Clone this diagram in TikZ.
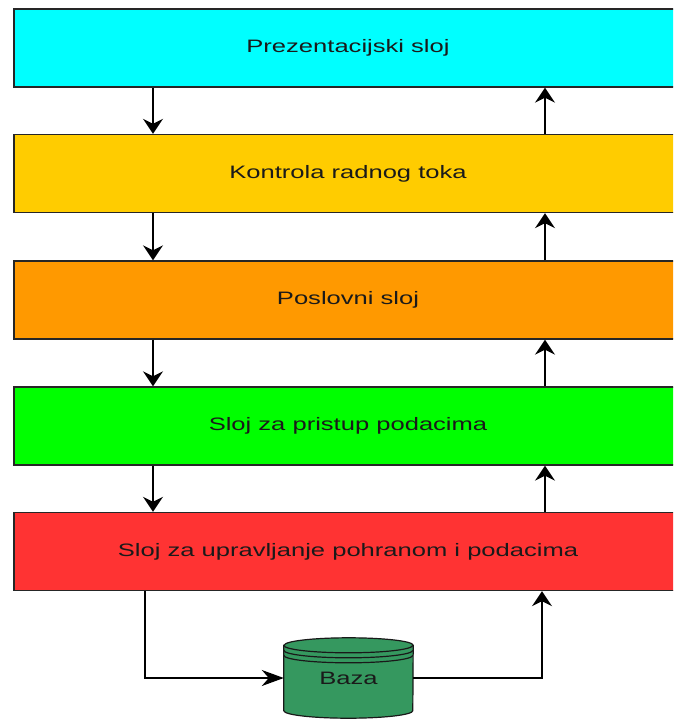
\documentclass[tikz,border=0pt]{standalone}
\usepackage{fontspec}
\setmainfont{Liberation Sans}
\usetikzlibrary{arrows.meta,shadows}
\definecolor{cCyan}{HTML}{00FFFF}
\definecolor{cYellow}{HTML}{FFCC00}
\definecolor{cOrange}{HTML}{FF9900}
\definecolor{cGreen}{HTML}{00FF00}
\definecolor{cRed}{HTML}{FF3333}
\definecolor{cBaza}{HTML}{35985F}
\definecolor{cText}{HTML}{1A1A1A}
\begin{document}
\begin{tikzpicture}[x=1pt,y=-1pt,
  layerbox/.style={draw=black!85, line width=1.4pt, minimum width=668pt, minimum height=78pt,
    inner sep=0pt, text=cText, font=\fontsize{18}{20}\selectfont},
  connv/.style={line width=1.5pt, -{Stealth[length=15pt,width=20pt,inset=5pt]}},
  connh/.style={line width=1.5pt, -{Stealth[length=22pt,width=16pt,inset=7pt]}},
  cyl/.style={draw=black!90, line width=1.2pt, fill=cBaza}
]
\useasboundingbox (0,0) rectangle (673,720);
\clip (0,0) rectangle (673,720);

\node[layerbox, fill=cCyan]   (l1) at (348,48)    {\scalebox{1.42}[1]{Prezentacijski sloj}};
\node[layerbox, fill=cYellow] (l2) at (348,173.5) {\scalebox{1.42}[1]{Kontrola radnog toka}};
\node[layerbox, fill=cOrange] (l3) at (348,300)   {\scalebox{1.42}[1]{Poslovni sloj}};
\node[layerbox, fill=cGreen]  (l4) at (348,426)   {\scalebox{1.42}[1]{Sloj za pristup podacima}};
\node[layerbox, fill=cRed]    (l5) at (348,551.5) {\scalebox{1.42}[1]{Sloj za upravljanje pohranom i podacima}};

\coordinate (dx) at (153,0);
\coordinate (ux) at (545,0);
\coordinate (bl) at (145,0);
\coordinate (br) at (542,0);

\foreach \a/\b in {l1/l2,l2/l3,l3/l4,l4/l5}{
  \draw[connv] (\a.south -| dx) -- (\b.north -| dx);
  \draw[connv] (\b.north -| ux) -- (\a.south -| ux);
}

% database cylinder
\node[minimum width=129pt, minimum height=80pt, inner sep=0pt] (baza) at (348.5,678) {};
\begin{scope}[shift={(3pt,-3pt)}]
\fill[black!25, opacity=0.6] ([yshift=-7.5pt]baza.north west) -- ([yshift=7.5pt]baza.south west)
  arc[start angle=180,end angle=360,x radius=64.5pt,y radius=7.5pt]
  -- ([yshift=-7.5pt]baza.north east)
  arc[start angle=0,end angle=180,x radius=64.5pt,y radius=7.5pt] -- cycle;
\end{scope}
\draw[cyl] ([yshift=-7.5pt]baza.north west) -- ([yshift=7.5pt]baza.south west)
  arc[start angle=180,end angle=360,x radius=64.5pt,y radius=7.5pt]
  -- ([yshift=-7.5pt]baza.north east)
  arc[start angle=0,end angle=180,x radius=64.5pt,y radius=7.5pt] -- cycle;
\foreach \s in {7.5,12.5,17.5}{
  \draw[draw=black!90, line width=1.2pt] ([yshift=-\s pt]baza.north west)
    arc[start angle=180,end angle=360,x radius=64.5pt,y radius=7.5pt];
}
\node[text=cText, font=\fontsize{18}{20}\selectfont] (bazat) at (baza.center) {\scalebox{1.42}[1]{Baza}};

\draw[connh] (l5.south -| bl) |- (baza.west);
\draw[connv] (baza.east) -| (l5.south -| br);
\end{tikzpicture}
\end{document}
